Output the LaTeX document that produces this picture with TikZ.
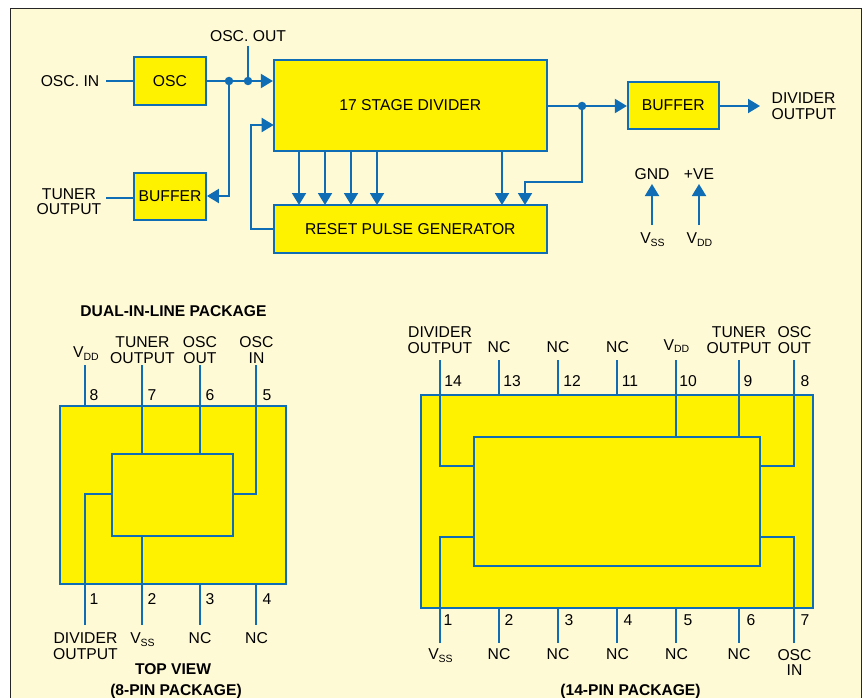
\documentclass[tikz,border=0pt]{standalone}
\usepackage{fontspec}
\setmainfont{Liberation Sans}
\usetikzlibrary{arrows.meta}
\definecolor{bgc}{HTML}{FFFAD6}
\definecolor{yel}{HTML}{FFF200}
\definecolor{blu}{HTML}{0F6DB5}
\newcommand{\subV}[1]{V\raisebox{-2.5pt}{\fontsize{10.5}{10.5}\selectfont #1}}
\begin{document}
\begin{tikzpicture}[x=1pt,y=-1pt,
  lbl/.style={inner sep=0pt,align=center,font=\fontsize{15.7}{15.4}\selectfont,text=black},
  num/.style={inner sep=0pt,font=\fontsize{15.7}{15}\selectfont,text=black},
  ttl/.style={inner sep=0pt,align=center,font=\fontsize{15.6}{15}\selectfont\bfseries,text=black},
  blk/.style={draw=blu,fill=yel,line width=1.8pt,inner sep=0pt,align=center,font=\fontsize{15.7}{15.4}\selectfont,text=black,minimum width=#1},
  blk/.default=72pt,
  wire/.style={draw=blu,line width=1.9pt},
  arr/.style={wire,-{Triangle[length=12pt,width=14pt]}},
  dotj/.style={circle,fill=blu,inner sep=0pt,minimum size=8.5pt}]
\useasboundingbox (0,0) rectangle (864,698);
\fill[white] (0,0) rectangle (864,698);
\draw[fill=bgc,draw=black!85,line width=0.9pt] (10.5,8.5) rectangle (861,712);

%% block diagram
\node[blk=72pt,minimum height=48pt] (osc) at (170,81) {OSC};
\node[blk=72pt,minimum height=47pt] (bufa) at (170,196.5) {BUFFER};
\node[blk=273pt,minimum height=91pt] (div) at (410.3,105.5) {17 STAGE DIVIDER};
\node[blk=273pt,minimum height=48pt] (rst) at (410.3,229) {RESET PULSE GENERATOR};
\node[blk=91pt,minimum height=47pt] (bufb) at (673.3,105.5) {BUFFER};
\node[lbl] (oscin) at (70,81.5) {OSC. IN};
\node[lbl] (tuner) at (69,201.5) {TUNER\\OUTPUT};
\node[lbl] (oscout) at (248,36) {OSC. OUT};
\node[lbl,align=left,anchor=west] (divout) at (771.5,106) {DIVIDER\\OUTPUT};
\node[lbl] (gnd) at (652,174) {GND};
\node[lbl] (pve) at (699,174) {+VE};
\node[lbl] (vssa) at (652.5,239.5) {\subV{SS}};
\node[lbl] (vdda) at (699.5,239.5) {\subV{DD}};
\node[dotj] (j1) at (229,81) {};
\node[dotj] (j2) at (248,81) {};
\node[dotj] (j3) at (582,106) {};
\coordinate (divIn) at (div.west |- j1);
\coordinate (divFb) at (273.7,125);
\coordinate (divOutE) at (760,106);
\draw[wire] (106,81) -- (osc.west);
\draw[wire] (106,198) -- (bufa.west |- 0,198);
\draw[wire] (osc.east) -- (j2);
\draw[arr] (j2) -- (divIn);
\draw[wire] (oscout.south |- 0,46) -- (j2);
\draw[arr] (j1) |- (bufa.east |- 0,196);
\draw[arr] (rst.west |- 0,229) -| (251,125) -- (divFb);
\foreach \x in {299,325,351,377,502} \draw[arr] (\x,151) -- (\x,205);
\draw[wire] (div.east |- j3) -- (j3);
\draw[arr] (j3) -- (bufb.west |- j3);
\draw[arr] (j3) |- (525,182) -- (525,205);
\draw[arr] (bufb.east |- j3) -- (divOutE);
\draw[arr] (652,225) -- (652,184);
\draw[arr] (699,225) -- (699,184);

%% 8-pin package
\node[ttl] (t8) at (173.5,311) {DUAL-IN-LINE PACKAGE};
\node[blk=226pt,minimum height=178pt] (p8) at (173,495) {};
\draw[wire] (85,365) -- (85,405.5);
\draw[wire] (142,365) -- (142,454);
\draw[wire] (200,365) -- (200,454);
\draw[wire] (256,365) -- (256,494) -- (233,494);
\draw[wire] (112,494) -- (85,494) -- (85,625);
\draw[wire] (142,536) -- (142,625);
\draw[wire] (200,584) -- (200,625);
\draw[wire] (256,584) -- (256,625);
\node[blk=121pt,minimum height=82pt] (c8) at (172.7,495) {};
\node[lbl] (l8a) at (86,353.5) {\subV{DD}};
\node[lbl] (l8b) at (142.5,350) {TUNER\\OUTPUT};
\node[lbl] (l8c) at (200,350) {OSC\\OUT};
\node[lbl] (l8d) at (256.5,350) {OSC\\IN};
\node[lbl] (l8e) at (85.5,646) {DIVIDER\\OUTPUT};
\node[lbl] (l8f) at (142.5,639.5) {\subV{SS}};
\node[lbl] (l8g) at (200,638.5) {NC};
\node[lbl] (l8h) at (256.5,638.5) {NC};
\foreach \n/\x/\y in {8/94/395,7/152/395,6/210/395,5/267/395,1/94/599,2/152/599,3/210/599,4/267/599}
  \node[num] (n8\n) at (\x,\y) {\n};
\node[ttl] (t8b) at (173,669.5) {TOP VIEW};
\node[ttl] (t8c) at (176,691) {(8-PIN PACKAGE)};

%% 14-pin package
\node[blk=392.5pt,minimum height=213pt] (p14) at (617,501.2) {};
\draw[wire] (440,360) -- (440,466) -- (473.7,466);
\draw[wire] (794,360) -- (794,466) -- (760,466);
\draw[wire] (440,643) -- (440,537) -- (473.7,537);
\draw[wire] (794,643) -- (794,537) -- (760,537);
\foreach \x in {499,558,617} \draw[wire] (\x,360) -- (\x,394.7);
\foreach \x in {676,739} \draw[wire] (\x,360) -- (\x,437);
\foreach \x in {499,558,617,676,739} \draw[wire] (\x,607.7) -- (\x,643);
\node[blk=286.5pt,minimum height=128.7pt] (c14) at (616.9,501.3) {};
\node[lbl] (m1) at (440,340) {DIVIDER\\OUTPUT};
\node[lbl] (m2) at (499,347.5) {NC};
\node[lbl] (m3) at (558,347.5) {NC};
\node[lbl] (m4) at (617.5,347.5) {NC};
\node[lbl] (m5) at (676.5,346) {\subV{DD}};
\node[lbl] (m6) at (739,340) {TUNER\\OUTPUT};
\node[lbl] (m7) at (794.5,340) {OSC\\OUT};
\node[lbl] (m8) at (440.5,655.5) {\subV{SS}};
\node[lbl] (m9) at (499,654.5) {NC};
\node[lbl] (m10) at (558,654.5) {NC};
\node[lbl] (m11) at (617.5,654.5) {NC};
\node[lbl] (m12) at (676.5,654.5) {NC};
\node[lbl] (m13) at (739,654.5) {NC};
\node[lbl] (m14) at (794.5,662.5) {OSC\\IN};
\foreach \n/\x/\y in {14/453/381,13/512/381,12/572/381,11/630/381,10/688/381,9/748/381,8/805/381,1/448/620,2/509/620,3/569/620,4/628/620,5/688/620,6/751/620,7/805/620}
  \node[num] (q\n) at (\x,\y) {\n};
\node[ttl] (t14) at (630.5,691) {(14-PIN PACKAGE)};
\end{tikzpicture}
\end{document}
